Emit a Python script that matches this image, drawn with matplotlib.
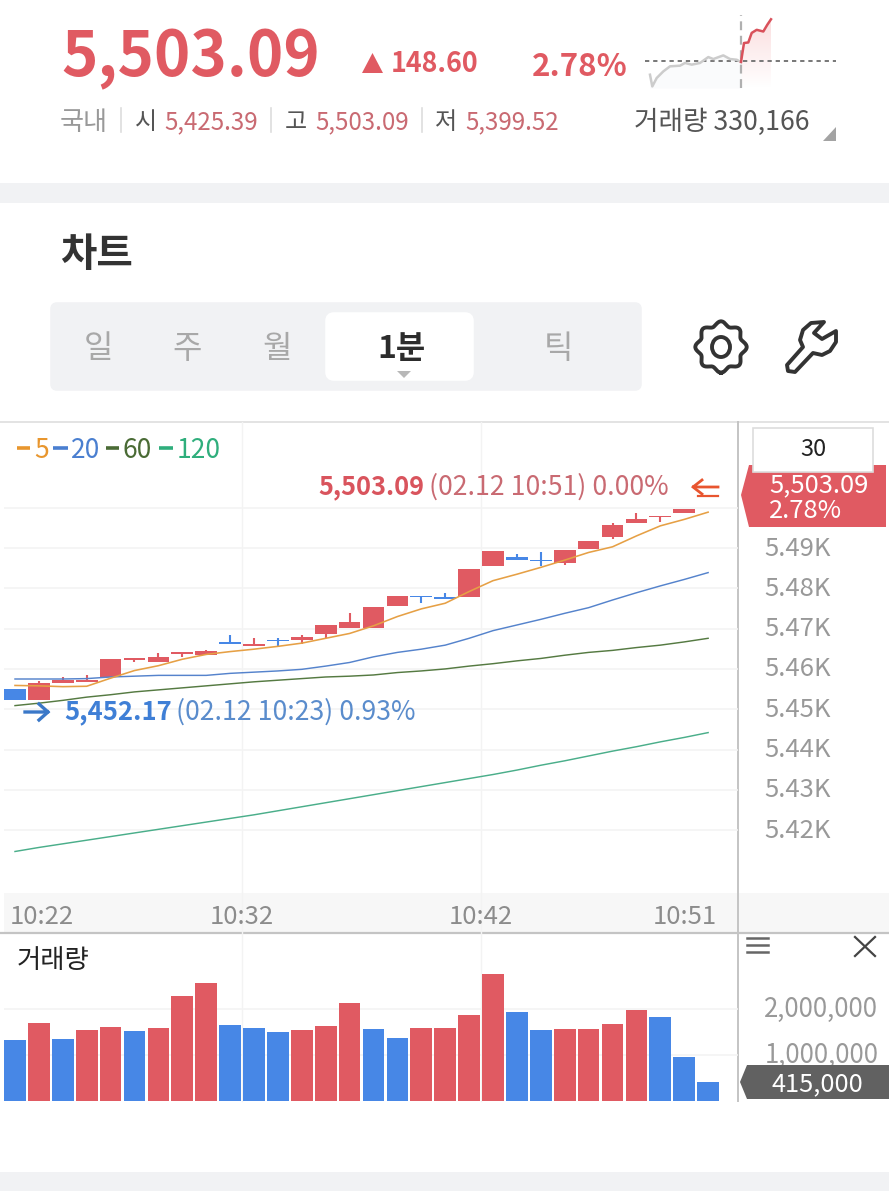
import numpy as np
import matplotlib
matplotlib.use("Agg")
import matplotlib.pyplot as plt
from matplotlib.patches import Polygon, Rectangle, FancyBboxPatch, Ellipse
from matplotlib.transforms import ScaledTranslation

plt.rcParams['font.family'] = ['Noto Sans CJK KR', 'DejaVu Sans']

RED = "#e05a62"
BLUE = "#4787e6"
GRID = "#f3f3f3"
W, H = 889, 1200

# 1 minute candles, 10:22 onward (the 10:51 candle is not drawn in the picture)
opens = [5455.1, 5452.2, 5456.4, 5456.7, 5458.1, 5462.2, 5461.6, 5463.7, 5463.4, 5466.7,
         5465.8, 5467.2, 5467.2, 5468.7, 5470.2, 5470.1, 5475.6, 5478.2, 5477.8, 5477.9,
         5485.6, 5487.8, 5487.0, 5486.4, 5489.8, 5492.8, 5496.1, 5497.7, 5498.8]
closes = [5452.2, 5456.4, 5457.2, 5457.2, 5462.4, 5462.6, 5463.0, 5464.3, 5464.5, 5466.2,
          5466.2, 5466.9, 5467.9, 5470.8, 5471.6, 5475.3, 5478.1, 5477.9, 5477.4, 5484.8,
          5489.3, 5487.0, 5486.7, 5489.4, 5491.8, 5495.6, 5497.3, 5498.0, 5499.7]
highs = [5455.1, 5457.1, 5458.1, 5458.6, 5462.4, 5462.6, 5463.9, 5464.3, 5464.8, 5468.4,
         5467.7, 5467.6, 5468.4, 5470.8, 5473.8, 5475.3, 5478.1, 5478.2, 5478.8, 5484.8,
         5489.3, 5488.4, 5488.9, 5489.4, 5491.8, 5496.1, 5498.6, 5498.0, 5499.7]
lows = [5452.2, 5452.2, 5456.4, 5456.7, 5458.1, 5461.6, 5461.6, 5463.0, 5463.4, 5466.2,
        5465.8, 5465.5, 5466.2, 5467.6, 5470.2, 5470.1, 5475.6, 5476.3, 5477.4, 5477.9,
        5485.6, 5487.0, 5485.6, 5485.7, 5489.8, 5492.2, 5496.1, 5496.5, 5498.8]

ma5 = [5455.9, 5455.8, 5455.6, 5455.7, 5457.7, 5459.6, 5460.8, 5462.4, 5463.6, 5464.3,
       5464.9, 5465.6, 5466.4, 5467.6, 5468.8, 5470.7, 5473.0, 5474.9, 5476.3, 5479.2,
       5481.9, 5483.5, 5485.2, 5487.0, 5488.9, 5490.3, 5493.0, 5495.5, 5497.1, 5498.9]
ma20 = [5457.5, 5457.5, 5457.5, 5457.6, 5458.0, 5458.2, 5458.4, 5458.4, 5458.4, 5458.9,
        5459.2, 5459.5, 5459.9, 5460.7, 5461.6, 5463.0, 5464.1, 5464.9, 5465.9, 5467.6,
        5469.5, 5470.9, 5472.3, 5473.8, 5475.2, 5477.1, 5478.9, 5480.6, 5482.2, 5483.9]
ma60 = [5450.9, 5451.5, 5452.2, 5453.0, 5453.6, 5454.3, 5454.8, 5455.3, 5455.8, 5456.3,
        5456.8, 5457.2, 5457.6, 5458.0, 5458.2, 5458.5, 5459.1, 5459.5, 5460.0, 5460.7,
        5461.3, 5462.0, 5462.6, 5463.4, 5464.1, 5464.6, 5465.3, 5465.9, 5466.7, 5467.6]
ma120 = [5414.7, 5415.7, 5416.6, 5417.5, 5418.4, 5419.3, 5420.2, 5421.1, 5422.0, 5422.9,
         5423.8, 5424.8, 5425.8, 5426.8, 5427.8, 5428.8, 5429.8, 5430.8, 5431.8, 5432.8,
         5433.8, 5434.9, 5436.1, 5437.2, 5438.4, 5439.6, 5440.7, 5441.9, 5443.0, 5444.2]

# volume in millions, and which bars are red
volumes = [1.32, 1.69, 1.34, 1.54, 1.60, 1.52, 1.58, 2.28, 2.56, 1.65,
           1.59, 1.51, 1.55, 1.64, 2.14, 1.57, 1.38, 1.58, 1.58, 1.88,
           2.77, 1.93, 1.54, 1.57, 1.57, 1.68, 1.97, 1.83, 0.96, 0.415]
volume_up = [0, 1, 0, 1, 1, 0, 1, 1, 1, 0,
             0, 0, 1, 1, 1, 0, 0, 1, 1, 1,
             1, 0, 0, 1, 1, 1, 1, 0, 0, 0]

price_ticks = [5420, 5430, 5440, 5450, 5460, 5470, 5480, 5490, 5500]
price_tick_labels = ["5.42K", "5.43K", "5.44K", "5.45K", "5.46K", "5.47K", "5.48K", "5.49K", ""]
time_tick_pos = [1.13, 9.5, 19.5, 28.03]
time_tick_labels = ["10:22", "10:32", "10:42", "10:51"]
time_grid = [9.5, 19.5]
volume_ticks = [1, 2]
volume_tick_labels = ["1,000,000", "2,000,000"]

# small header sparkline
spark_prev_t = [5, 7.3, 11.7, 18.3, 25, 35, 40, 46.7, 55, 63.3, 68.3, 78.3, 85, 91.7, 96]
spark_prev = [5305.7, 5264, 5294, 5317.5, 5335.5, 5337.8, 5347.5, 5341.5, 5347.5, 5368.5,
              5361.5, 5374.5, 5361.5, 5359, 5351]
spark_today_t = [96, 99, 103.3, 106.7, 111.7, 118.3, 122.3, 126]
spark_today = [5351, 5418.5, 5420.5, 5454.5, 5465.5, 5459.5, 5483.5, 5503]
prev_close = 5354.49


def px_axes(x0, y0, x1, y1, zorder):
    # axes placed by pixel box of the 889x1200 screenshot
    ax = fig.add_axes([x0 / W, 1 - y1 / H, (x1 - x0) / W, (y1 - y0) / H], zorder=zorder)
    ax.patch.set_alpha(0)
    for s in ax.spines.values():
        s.set_visible(False)
    return ax


fig = plt.figure(figsize=(W / 100, H / 100), dpi=100, facecolor="white")
raise_2px = ScaledTranslation(0, 2.5 / 100, fig.dpi_scale_trans)

# background, pixel coordinates
bg = px_axes(0, 0, W, H, 0)
bg.set_xlim(0, W)
bg.set_ylim(H, 0)
bg.axis("off")
bg.add_patch(Rectangle((0, 183), W, 20, color="#f1f2f4", lw=0))
bg.add_patch(Rectangle((0, 1172), W, 19, color="#f1f2f4", lw=0))
bg.add_patch(FancyBboxPatch((53, 305), 586, 83, boxstyle="round,pad=0,rounding_size=4", color="#f1f2f4", lw=4))
bg.add_patch(FancyBboxPatch((328, 315), 143, 63, boxstyle="round,pad=0,rounding_size=6", color="white", lw=4))
bg.add_patch(Rectangle((4, 893), 734, 39, color="#f7f7f7", lw=0))
bg.add_patch(Rectangle((738, 893), 151, 39, color="#f7f7f7", lw=0))
bg.plot([0, W], [422, 422], color="#dedede", lw=1.2)
bg.plot([0, W], [932.5, 932.5], color="#c4c4c4", lw=1.6)
bg.plot([738, 738], [422, 1101], color="#c4c4c4", lw=1.4)

# price panel
ax = px_axes(4, 422, 738, 893, 2)
ax.set_xlim(-0.46, 30.25)
ax.set_ylim(5404.4, 5521.27)
ax.yaxis.tick_right()
ax.set_yticks(price_ticks, price_tick_labels)
ax.set_xticks(time_tick_pos, time_tick_labels)
ax.tick_params(axis="y", length=0, pad=19, labelsize=18.5, labelcolor="#999999")
ax.tick_params(axis="x", length=0, pad=8, labelsize=18.5, labelcolor="#8c8c8c")
ax.grid(axis="y", color=GRID, lw=1.1)
ax.set_axisbelow(True)
for t in time_grid:
    ax.axvline(t, color=GRID, lw=1, zorder=0)
    bg.plot([15 + 23.9 * t] * 2, [893, 1101], color=GRID, lw=1)
for lbl in ax.get_yticklabels():
    lbl.set_transform(lbl.get_transform() + raise_2px)

idx = np.arange(len(opens))
o = np.array(opens)
c = np.array(closes)
cols = [RED if b > a else BLUE for a, b in zip(o, c)]
ax.vlines(idx, lows, highs, colors=cols, lw=1.5, zorder=3)
ax.bar(idx, np.abs(c - o), bottom=np.minimum(o, c), width=0.91, color=cols, lw=0, zorder=3)

ma_x = np.arange(len(ma5))
ax.plot(ma_x, ma120, color="#4aae8a", lw=1.05, zorder=4)
ax.plot(ma_x, ma60, color="#557a42", lw=1.05, zorder=4)
ax.plot(ma_x, ma20, color="#5583cc", lw=1.05, zorder=4)
ax.plot(ma_x, ma5, color="#e6a045", lw=1.15, zorder=4)

# volume panel
vol = px_axes(4, 934, 738, 1101, 2)
vol.set_xlim(-0.46, 30.25)
vol.set_ylim(0, 3.63)
vol.yaxis.tick_right()
vol.set_xticks([])
vol.set_yticks(volume_ticks, volume_tick_labels)
vol.tick_params(axis="y", length=0, pad=19, labelsize=18.6, labelcolor="#999999")
vol.grid(axis="y", color=GRID, lw=1.1)
vol.set_axisbelow(True)
vol.bar(np.arange(len(volumes)), volumes, width=0.91, lw=0,
        color=[RED if u else BLUE for u in volume_up])
for lbl in vol.get_yticklabels():
    lbl.set_transform(lbl.get_transform() + raise_2px)

# everything that sits on top, pixel coordinates again
fg = px_axes(0, 0, W, H, 5)
fg.set_xlim(0, W)
fg.set_ylim(H, 0)
fg.axis("off")

# header
fg.text(61, 58, "5,503.09", color=RED, fontsize=44.4, fontweight="bold", va="center")
fg.add_patch(Polygon([(362, 73), (383, 73), (372.5, 53)], color=RED, lw=0))
fg.text(391, 64, "148.60", color=RED, fontsize=19.3, fontweight="bold", va="center")
fg.text(532, 67, "2.78%", color=RED, fontsize=22.5, fontweight="bold", va="center")

row = [(60, "국내", "#999999", 18.8), (135, "시", "#555555", 17.3), (164, "5,425.39", "#c96a72", 17.4),
       (285, "고", "#555555", 17.3), (315, "5,503.09", "#c96a72", 17.4), (435, "저", "#555555", 17.3),
       (465, "5,399.52", "#c96a72", 17.4)]
for x, s, col, size in row:
    fg.text(x, 122, s, color=col, fontsize=size, va="center")
for x in [121, 271, 422]:
    fg.plot([x, x], [108, 132], color="#dddddd", lw=1.2)
fg.text(634, 122, "거래량 330,166", color="#555555", fontsize=19.2, va="center")
fg.add_patch(Polygon([(836, 127), (836, 141), (823, 141)], color="#a3a3a3", lw=0))

# tabs and title
fg.text(60, 255, "차트", color="#333333", fontsize=28.5, fontweight="bold", va="center")
for x, s in [(98, "일"), (187, "주"), (277, "월"), (558, "틱")]:
    fg.text(x, 349, s, color="#a8a8a8", fontsize=23, ha="center", va="center")
fg.text(401, 349, "1분", color="#2c2c2c", fontsize=23, fontweight="bold", ha="center", va="center")
fg.add_patch(Polygon([(397, 371), (411, 371), (404, 378)], color="#b8b8b8", lw=0))

# gear icon
a = np.linspace(0, 2 * np.pi, 240)
r = 23.5 + 2.2 * np.cos(8 * a)
fg.plot(721 + r * np.sin(a), 347 + r * np.cos(a), color="#333333", lw=2.8)
fg.add_patch(Ellipse((721, 347), 18, 20, fill=False, ec="#333333", lw=2.8))
# wrench icon
wrench = [(824, 322), (811, 323), (803, 330), (800, 340), (803, 347), (787, 365), (788, 371),
          (795, 372), (813, 353), (822, 355), (830, 351), (836, 342), (836, 331),
          (822, 339), (814, 333)]
fg.add_patch(Polygon(wrench, closed=True, fill=False, ec="#333333", lw=2.8, joinstyle="round"))

# legend of the moving averages
legend = [(17, 30, 34, "5", "#e8962e"), (53, 68, 71, "20", "#4a7fd0"),
          (106, 119, 123, "60", "#4a6b35"), (159, 173, 177, "120", "#2fae7c")]
for x0, x1, xt, s, col in legend:
    fg.plot([x0, x1], [448, 448], color=col, lw=2.6, solid_capstyle="butt")
    fg.text(xt, 450, s, color=col, fontsize=19, va="center")

# high and low labels
fg.text(318, 487, "5,503.09", color="#d9545d", fontsize=18.3, fontweight="bold", va="center")
fg.text(429, 487, "(02.12 10:51) 0.00%", color="#c96a72", fontsize=19.2, va="center")
fg.plot([718, 693, 702], [487, 487, 480], color="#e8552f", lw=2, solid_joinstyle="miter")
fg.plot([693, 702], [487, 494], color="#e8552f", lw=2)
fg.plot([698, 718], [496, 496], color="#e8552f", lw=1.6)
fg.text(64, 712, "5,452.17", color="#3f7fd6", fontsize=18.5, fontweight="bold", va="center")
fg.text(176, 712, "(02.12 10:23) 0.93%", color="#5a8ccc", fontsize=19.2, va="center")
fg.plot([25, 48, 39], [712, 712, 704], color="#3a78c8", lw=2.4)
fg.plot([48, 39], [712, 720], color="#3a78c8", lw=2.4)

# right hand price tag and interval box
fg.add_patch(Polygon([(741, 495), (749, 465), (886, 465), (886, 527), (749, 527)], color=RED, lw=0))
fg.add_patch(Rectangle((753, 428), 120, 44, fc="white", ec="#dddddd", lw=1.2))
fg.text(813, 450, "30", color="#222222", fontsize=17, ha="center", va="center")
fg.text(769, 485, "5,503.09", color="white", fontsize=18.4, va="center")
fg.text(769, 511, "2.78%", color="white", fontsize=18.4, va="center")

# volume panel furniture
fg.text(17, 961, "거래량", color="#222222", fontsize=19, va="center")
for y in [938, 945, 952]:
    fg.plot([747, 768], [y, y], color="#666666", lw=1.8)
fg.plot([855, 875], [937, 956], color="#444444", lw=1.6)
fg.plot([855, 875], [956, 937], color="#444444", lw=1.6)
fg.add_patch(Polygon([(740, 1082), (747, 1065), (889, 1065), (889, 1099), (747, 1099)], color="#616161", lw=0))
fg.text(817, 1084, "415,000", color="white", fontsize=18.3, ha="center", va="center")

# sparkline
sp = px_axes(645, 10, 836, 90, 3)
sp.set_xlim(0, 191)
sp.set_ylim(5354.49 - 29 * 3.56, 5354.49 + 51 * 3.56)
sp.set_xticks([])
sp.set_yticks([])
fill_bottom = sp.get_ylim()[0] + 2 * 3.56
grad = np.linspace(0, 1, 64).reshape(-1, 1)
img = sp.imshow(grad, extent=(96, 126, fill_bottom, 5503), aspect="auto", origin="upper",
                cmap=matplotlib.colors.LinearSegmentedColormap.from_list("p", ["#fbdfe0", "#ffffff"]),
                zorder=1)
patch = sp.fill_between(spark_today_t, spark_today, fill_bottom, color="none", lw=0)
img.set_clip_path(patch.get_paths()[0], transform=sp.transData)
sp.fill_between(spark_prev_t, spark_prev, fill_bottom, color="#fafbfc", lw=0, zorder=1)
sp.set_xlim(0, 191)
sp.set_ylim(5354.49 - 29 * 3.56, 5354.49 + 51 * 3.56)
sp.axhline(prev_close, color="#777777", lw=1.4, ls=(0, (2.2, 2)), zorder=2)
sp.axvline(96, ymin=0.03, ymax=0.94, color="#b0b0b0", lw=1.6, ls=(0, (4, 2.5)), zorder=2)
sp.plot(spark_prev_t, spark_prev, color="#cccccc", lw=1.8, zorder=3)
sp.plot(spark_today_t, spark_today, color="#d9515b", lw=1.8, zorder=3)

fig.savefig("out.png", dpi=100)
